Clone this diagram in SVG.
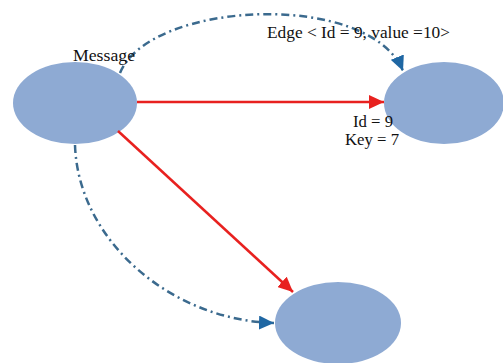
<svg xmlns="http://www.w3.org/2000/svg" width="503" height="363" viewBox="0 0 503 363">
<style>
.node{fill:#8eaad3;}
.red{fill:none;stroke:#e8211f;stroke-width:2.5;}
.dd{fill:none;stroke:#3b6a8e;stroke-width:2.5;stroke-dasharray:8 4 2 4;}
.lbl{font-family:"Liberation Serif","Times New Roman",serif;font-size:17px;fill:#111;}
</style>
<defs>
<marker id="ar" markerUnits="userSpaceOnUse" markerWidth="16" markerHeight="14" refX="15" refY="7" orient="auto">
<path d="M0,0 L15,7 L0,14 Z" fill="#e8211f"/>
</marker>
<marker id="ab" markerUnits="userSpaceOnUse" markerWidth="16" markerHeight="14" refX="15" refY="7" orient="auto">
<path d="M0,0 L15,7 L0,14 Z" fill="#1f67a3"/>
</marker>
</defs>
<rect width="503" height="363" fill="#fff"/>
<g id="n1"><ellipse class="node" cx="75" cy="103" rx="62" ry="41"/></g>
<g id="n2"><ellipse class="node" cx="444" cy="103" rx="60" ry="41"/></g>
<g id="n3"><ellipse class="node" cx="338" cy="323" rx="63" ry="41"/></g>
<g id="edges">
<path class="red" d="M137,102 L384,102" marker-end="url(#ar)"/>
<path class="red" d="M118,131 L293,292" marker-end="url(#ar)"/>
<path class="dd" d="M120,73 C150,0 370,-10 403,71" marker-end="url(#ab)"/>
<path class="dd" d="M75,145 C78,240 170,320 274,323" marker-end="url(#ab)"/>
</g>
<g id="labels">
<text class="lbl" x="73" y="61" textLength="62" lengthAdjust="spacingAndGlyphs">Message</text>
<text class="lbl" x="267" y="38" textLength="183" lengthAdjust="spacingAndGlyphs">Edge &lt; Id = 9, value =10&gt;</text>
<text class="lbl" x="353" y="127" textLength="40" lengthAdjust="spacingAndGlyphs">Id = 9</text>
<text class="lbl" x="345" y="145" textLength="54" lengthAdjust="spacingAndGlyphs">Key = 7</text>
</g>
</svg>
